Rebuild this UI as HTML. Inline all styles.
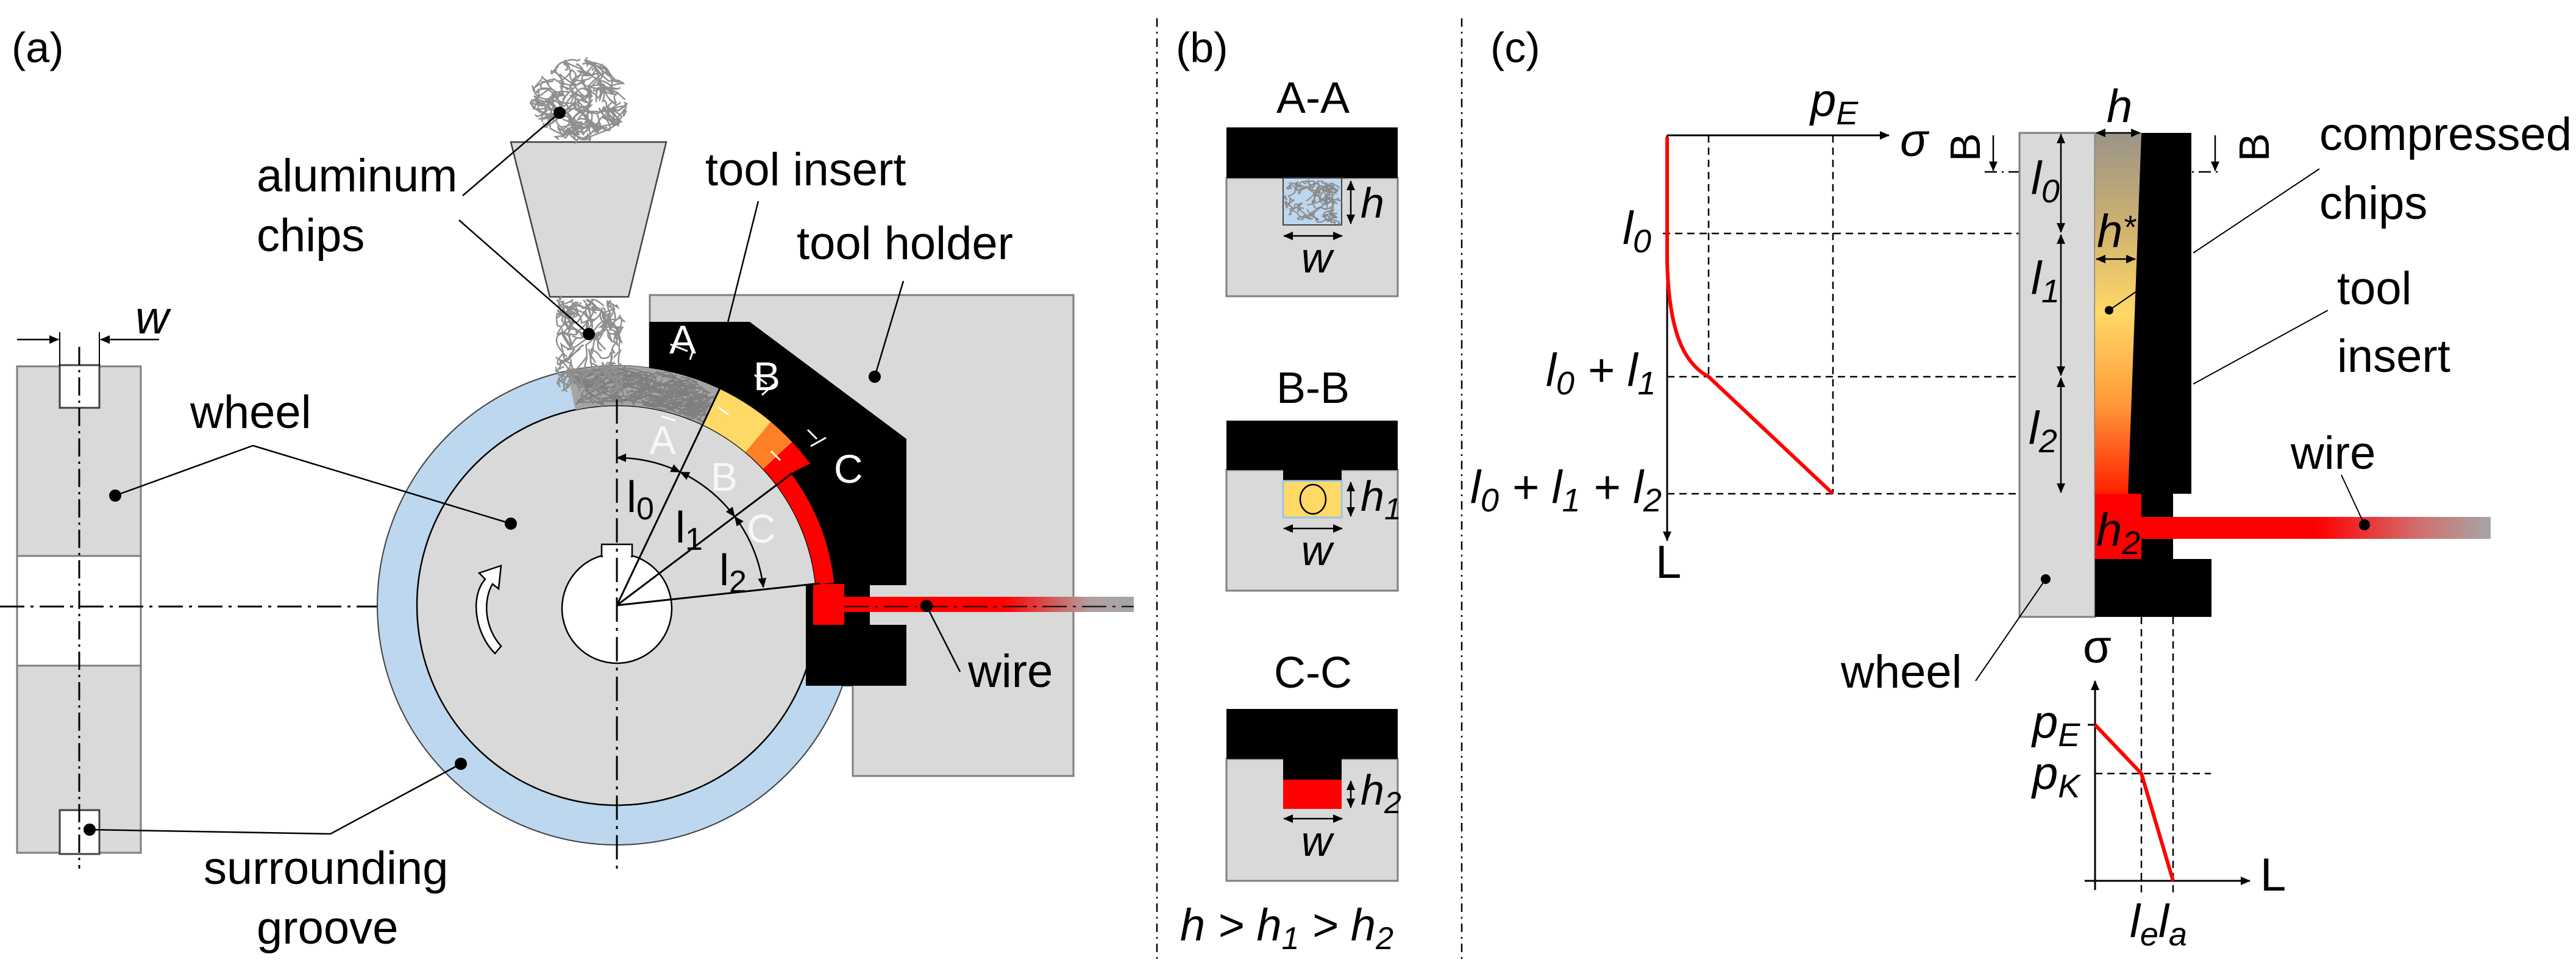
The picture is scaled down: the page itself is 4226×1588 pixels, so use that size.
<!DOCTYPE html>
<html><head><meta charset="utf-8"><style>
html,body{margin:0;padding:0;background:#fff}
svg{display:block}
text{font-family:"Liberation Sans",Arial,sans-serif;font-size:76px;fill:#000}
.it{font-style:italic}
.w{fill:#fff}
</style></head><body>
<svg width="4226" height="1588" viewBox="0 0 4226 1588" xmlns="http://www.w3.org/2000/svg">
<defs>
<marker id="ar" viewBox="0 0 10 10" refX="9" refY="5" markerWidth="7" markerHeight="7" orient="auto-start-reverse" markerUnits="userSpaceOnUse" style="overflow:visible"><path d="M0,0 L10,5 L0,10 z" fill="#000" transform="scale(2.2) translate(-5,-0)"/></marker>
<marker id="a2" markerWidth="24" markerHeight="20" refX="22" refY="10" orient="auto-start-reverse" markerUnits="userSpaceOnUse"><path d="M0,0 L24,10 L0,20 z" fill="#000"/></marker>
<marker id="a3" markerWidth="16" markerHeight="14" refX="15" refY="7" orient="auto-start-reverse" markerUnits="userSpaceOnUse"><path d="M0,0 L16,7 L0,14 z" fill="#000"/></marker>
<linearGradient id="wireA" x1="1385" y1="0" x2="1860" y2="0" gradientUnits="userSpaceOnUse"><stop offset="0" stop-color="#ff0000"/><stop offset="0.55" stop-color="#ff0000"/><stop offset="0.85" stop-color="#b0a0a0"/><stop offset="1" stop-color="#a6a6a6"/></linearGradient>
<linearGradient id="wireC" x1="3513" y1="0" x2="4086" y2="0" gradientUnits="userSpaceOnUse"><stop offset="0" stop-color="#ff0000"/><stop offset="0.5" stop-color="#ff0000"/><stop offset="0.8" stop-color="#d07070"/><stop offset="1" stop-color="#a6a6a6"/></linearGradient>
<linearGradient id="chipC" x1="0" y1="218" x2="0" y2="810" gradientUnits="userSpaceOnUse"><stop offset="0" stop-color="#9a9488"/><stop offset="0.25" stop-color="#cdb070"/><stop offset="0.5" stop-color="#ffd966"/><stop offset="0.75" stop-color="#ff9a3a"/><stop offset="1" stop-color="#ff2000"/></linearGradient>
</defs>

<!-- ===== Panel (a) ===== -->
<text x="19" y="102" style="font-size:70px">(a)</text>

<!-- side view -->
<rect x="28" y="601" width="203" height="798" fill="#d9d9d9" stroke="#7f7f7f" stroke-width="3"/>
<rect x="28" y="912" width="203" height="180" fill="#fff" stroke="#7f7f7f" stroke-width="3"/>
<rect x="98" y="599" width="65" height="70" fill="#fff" stroke="#404040" stroke-width="3"/>
<rect x="98" y="1329" width="65" height="72" fill="#fff" stroke="#404040" stroke-width="3"/>
<line x1="130" y1="569" x2="130" y2="1425" stroke="#000" stroke-width="3" stroke-dasharray="30 8 4 8"/>
<line x1="28" y1="557" x2="96" y2="557" stroke="#000" stroke-width="2.5" marker-end="url(#a3)"/>
<line x1="261" y1="557" x2="165" y2="557" stroke="#000" stroke-width="2.5" marker-end="url(#a3)"/>
<line x1="98" y1="545" x2="98" y2="600" stroke="#000" stroke-width="2"/>
<line x1="163" y1="545" x2="163" y2="600" stroke="#000" stroke-width="2"/>
<text x="222" y="547" class="it">w</text>

<!-- horizontal center line -->
<line x1="0" y1="995" x2="1860" y2="995" stroke="#000" stroke-width="3" stroke-dasharray="40 10 5 10"/>

<!-- tool holder -->
<polygon points="1066,484 1761,484 1761,1273 1399,1273 1399,1125 1066,1125" fill="#d9d9d9" stroke="#7f7f7f" stroke-width="3"/>

<!-- wheel -->
<circle cx="1012" cy="993" r="393" fill="#bdd7ee" stroke="#404040" stroke-width="2"/>
<circle cx="1012" cy="993" r="328" fill="#d9d9d9" stroke="#000" stroke-width="2.5"/>

<!-- chips in groove -->
<path d="M930.3,608.6 A393,393 0 0 1 1180.6,638 L1152.7,696.7 A328,328 0 0 0 943.8,672.2 Z" fill="#a5a5a5"/>
<g id="ringchips"></g>
<path d="M1180.6,638 A393,393 0 0 1 1264.6,692 L1222.8,741.7 A328,328 0 0 0 1152.7,696.7 Z" fill="#ffd966"/>
<path d="M1264.6,692 A393,393 0 0 1 1299.4,725 L1251.9,769.3 A328,328 0 0 0 1222.8,741.7 Z" fill="#ff7f27"/>

<!-- hopper -->
<polygon points="838,233 1093,233 1031,487 902,487" fill="#d9d9d9" stroke="#404040" stroke-width="2.5"/>
<g id="chipsTop"></g>
<g id="chipsBot"></g>

<!-- insert -->
<path d="M1065,528 L1230,528 L1487,720 L1487,960 L1427,960 L1427,1025 L1487,1025 L1487,1125 L1322,1125 L1322,960 L1368,955.6 A358,358 0 0 0 1273.8,748.8 L1299.4,725 A393,393 0 0 0 1065,603.6 Z" fill="#000"/>
<!-- red -->
<path d="M1299.4,725 A393,393 0 0 1 1325.8,756.5 L1273.9,795.6 A328,328 0 0 0 1251.9,769.3 Z" fill="#ff0000"/>
<path d="M1273.9,795.6 A328,328 0 0 1 1338.2,958.7 L1368,955.6 A358,358 0 0 0 1297.9,777.6 Z" fill="#ff0000"/>
<path d="M1273.9,795.6 L1300,775 L1330,760 L1325.8,756.5 Z" fill="#ff0000"/>
<rect x="1334" y="958" width="51" height="67" fill="#ff0000"/>
<rect x="1385" y="979" width="475" height="25" fill="url(#wireA)"/>
<line x1="1385" y1="995" x2="1860" y2="995" stroke="#000" stroke-width="2.5" stroke-dasharray="40 10 5 10" opacity="0.8"/>

<!-- hub -->
<circle cx="1012" cy="998" r="90" fill="#fff" stroke="#000" stroke-width="2.5"/>
<rect x="987" y="893" width="50" height="20" fill="#fff" stroke="#000" stroke-width="2.5"/>
<rect x="989" y="905" width="46" height="14" fill="#fff"/>

<!-- vertical center line -->
<line x1="1012" y1="655" x2="1012" y2="1425" stroke="#000" stroke-width="3" stroke-dasharray="40 10 5 10"/>

<!-- radial lines -->
<line x1="1012" y1="993" x2="1180.6" y2="638" stroke="#000" stroke-width="3"/>
<line x1="1012" y1="993" x2="1300" y2="776" stroke="#000" stroke-width="3"/>
<line x1="1012" y1="993" x2="1345" y2="957" stroke="#000" stroke-width="3"/>

<!-- dimension arcs -->
<path d="M1012,751 A242,242 0 0 1 1115.8,774.4" fill="none" stroke="#000" stroke-width="2.5" marker-start="url(#a3)" marker-end="url(#a3)"/>
<path d="M1115.8,774.4 A242,242 0 0 1 1205.3,847.4" fill="none" stroke="#000" stroke-width="2.5" marker-start="url(#a3)" marker-end="url(#a3)"/>
<path d="M1205.3,847.4 A242,242 0 0 1 1252.2,963.5" fill="none" stroke="#000" stroke-width="2.5" marker-start="url(#a3)" marker-end="url(#a3)"/>
<text x="1028" y="840" style="font-size:72px">l<tspan dy="12" style="font-size:52px">0</tspan></text>
<text x="1108" y="890" style="font-size:72px">l<tspan dy="12" style="font-size:52px">1</tspan></text>
<text x="1180" y="960" style="font-size:72px">l<tspan dy="12" style="font-size:52px">2</tspan></text>

<!-- section labels -->
<text x="1098" y="580" class="w" style="font-size:66px">A</text>
<text x="1236" y="640" class="w" style="font-size:66px">B</text>
<text x="1368" y="792" class="w" style="font-size:66px">C</text>
<g fill="#fff" opacity="0.8">
<text x="1065" y="745" style="font-size:66px;fill:#fff">A</text>
<text x="1166" y="805" style="font-size:66px;fill:#fff">B</text>
<text x="1225" y="890" style="font-size:66px;fill:#fff">C</text>
</g>
<g stroke="#fff" stroke-width="3" fill="none">
<line x1="1100" y1="565" x2="1128" y2="576"/><line x1="1138" y1="572" x2="1132" y2="590"/>
<line x1="1238" y1="615" x2="1258" y2="630"/><line x1="1270" y1="630" x2="1250" y2="648"/>
<line x1="1325" y1="705" x2="1340" y2="720"/><line x1="1355" y1="718" x2="1330" y2="732"/>
<line x1="1085" y1="683" x2="1108" y2="690"/>
<line x1="1178" y1="668" x2="1195" y2="680"/>
<line x1="1265" y1="740" x2="1280" y2="755"/>
</g>

<!-- rotation arrow -->
<path d="M812,1072 C780,1040 770,980 796,950 L786,940 L822,928 L818,966 L808,958 C792,985 795,1030 822,1060 Z" fill="#fff" stroke="#000" stroke-width="2.5"/>

<!-- leaders -->
<g stroke="#000" stroke-width="2.5">
<line x1="759" y1="321" x2="918" y2="185"/>
<line x1="753" y1="361" x2="966" y2="548"/>
<line x1="1244" y1="330" x2="1193" y2="533"/>
<line x1="1482" y1="461" x2="1435" y2="618"/>
<line x1="415" y1="731" x2="189" y2="813"/>
<line x1="415" y1="731" x2="838" y2="859"/>
<line x1="1575" y1="1102" x2="1520" y2="994"/>
<line x1="542" y1="1368" x2="756" y2="1253"/>
<line x1="542" y1="1368" x2="147" y2="1361"/>
</g>
<g fill="#000">
<circle cx="918" cy="185" r="10"/><circle cx="966" cy="548" r="10"/>
<circle cx="1435" cy="618" r="10"/><circle cx="189" cy="813" r="10"/>
<circle cx="838" cy="859" r="10"/><circle cx="1520" cy="994" r="10"/>
<circle cx="756" cy="1253" r="10"/><circle cx="147" cy="1361" r="10"/>
</g>
<text x="421" y="314">aluminum</text>
<text x="421" y="412">chips</text>
<text x="1157" y="304">tool insert</text>
<text x="1307" y="425">tool holder</text>
<text x="312" y="702">wheel</text>
<text x="1588" y="1127">wire</text>
<text x="334" y="1450">surrounding</text>
<text x="421" y="1548">groove</text>

<!-- separators -->
<line x1="1898" y1="30" x2="1898" y2="1580" stroke="#000" stroke-width="2.5" stroke-dasharray="14 8 3 8"/>
<line x1="2398" y1="30" x2="2398" y2="1580" stroke="#000" stroke-width="2.5" stroke-dasharray="14 8 3 8"/>

<!-- ===== Panel (b) ===== -->
<text x="1929" y="102" style="font-size:70px">(b)</text>
<text x="2154" y="185" text-anchor="middle" style="font-size:72px">A-A</text>
<rect x="2012" y="292" width="281" height="194" fill="#d9d9d9" stroke="#7f7f7f" stroke-width="3"/>
<rect x="2012" y="209" width="281" height="83" fill="#000"/>
<rect x="2105" y="292" width="96" height="77" fill="#bdd7ee" stroke="#404040" stroke-width="2"/>
<g id="chipsAA"></g>
<line x1="2216" y1="297" x2="2216" y2="367" stroke="#000" stroke-width="2.5" marker-start="url(#a3)" marker-end="url(#a3)"/>
<text x="2232" y="357" class="it" style="font-size:70px">h</text>
<line x1="2106" y1="387" x2="2202" y2="387" stroke="#000" stroke-width="2.5" marker-start="url(#a3)" marker-end="url(#a3)"/>
<text x="2160" y="447" class="it" text-anchor="middle" style="font-size:70px">w</text>

<text x="2154" y="661" text-anchor="middle" style="font-size:72px">B-B</text>
<rect x="2012" y="771" width="281" height="198" fill="#d9d9d9" stroke="#7f7f7f" stroke-width="3"/>
<rect x="2012" y="690" width="281" height="81" fill="#000"/>
<rect x="2105" y="771" width="96" height="18" fill="#000"/>
<rect x="2105" y="789" width="96" height="60" fill="#ffd966" stroke="#9dc3e6" stroke-width="3"/>
<ellipse cx="2154" cy="819" rx="21" ry="24" fill="none" stroke="#000" stroke-width="2.5"/>
<line x1="2216" y1="791" x2="2216" y2="847" stroke="#000" stroke-width="2.5" marker-start="url(#a3)" marker-end="url(#a3)"/>
<text x="2232" y="838" class="it" style="font-size:70px">h<tspan dy="14" style="font-size:50px">1</tspan></text>
<line x1="2106" y1="867" x2="2202" y2="867" stroke="#000" stroke-width="2.5" marker-start="url(#a3)" marker-end="url(#a3)"/>
<text x="2160" y="927" class="it" text-anchor="middle" style="font-size:70px">w</text>

<text x="2154" y="1128" text-anchor="middle" style="font-size:72px">C-C</text>
<rect x="2012" y="1245" width="281" height="200" fill="#d9d9d9" stroke="#7f7f7f" stroke-width="3"/>
<rect x="2012" y="1163" width="281" height="82" fill="#000"/>
<rect x="2105" y="1245" width="96" height="34" fill="#000"/>
<rect x="2105" y="1279" width="96" height="48" fill="#ff0000"/>
<line x1="2216" y1="1281" x2="2216" y2="1325" stroke="#000" stroke-width="2.5" marker-start="url(#a3)" marker-end="url(#a3)"/>
<text x="2232" y="1320" class="it" style="font-size:70px">h<tspan dy="14" style="font-size:50px">2</tspan></text>
<line x1="2106" y1="1343" x2="2202" y2="1343" stroke="#000" stroke-width="2.5" marker-start="url(#a3)" marker-end="url(#a3)"/>
<text x="2160" y="1404" class="it" text-anchor="middle" style="font-size:70px">w</text>
<text x="1936" y="1543" class="it" style="font-size:74px">h &gt; h<tspan dy="14" style="font-size:52px">1</tspan><tspan dy="-14"> &gt; h</tspan><tspan dy="14" style="font-size:52px">2</tspan></text>

<!-- ===== Panel (c) ===== -->
<text x="2445" y="102" style="font-size:70px">(c)</text>
<!-- upper graph -->
<line x1="2735" y1="222" x2="3099" y2="222" stroke="#000" stroke-width="3" marker-end="url(#a3)"/>
<line x1="2735" y1="222" x2="2735" y2="887" stroke="#000" stroke-width="3" marker-end="url(#a3)"/>
<text x="3117" y="256" class="it">σ</text>
<text x="2970" y="190" class="it">p<tspan dy="14" style="font-size:54px">E</tspan></text>
<g stroke="#000" stroke-width="2.5" stroke-dasharray="12 8" fill="none">
<line x1="2803" y1="222" x2="2803" y2="618"/>
<line x1="3007" y1="222" x2="3007" y2="810"/>
<line x1="2728" y1="383" x2="3437" y2="383"/>
<line x1="2735" y1="618" x2="3437" y2="618"/>
<line x1="2735" y1="810" x2="3437" y2="810"/>
<line x1="3256" y1="282" x2="3641" y2="282" stroke-dasharray="20 8 3 8"/>
</g>
<path d="M2735,225 L2735,430 C2738,540 2760,595 2803,618 L3007,810" fill="none" stroke="#ff0000" stroke-width="6"/>
<text x="2662" y="400" class="it">l<tspan dy="14" style="font-size:54px">0</tspan></text>
<text x="2536" y="633" class="it">l<tspan dy="14" style="font-size:54px">0</tspan><tspan dy="-14"> + l</tspan><tspan dy="14" style="font-size:54px">1</tspan></text>
<text x="2412" y="825" class="it">l<tspan dy="14" style="font-size:54px">0</tspan><tspan dy="-14"> + l</tspan><tspan dy="14" style="font-size:54px">1</tspan><tspan dy="-14"> + l</tspan><tspan dy="14" style="font-size:54px">2</tspan></text>
<text x="2716" y="948">L</text>

<!-- column -->
<rect x="3313" y="218" width="124" height="794" fill="#d9d9d9" stroke="#7f7f7f" stroke-width="3"/>
<polygon points="3437,218 3513,218 3491,810 3437,810" fill="url(#chipC)"/>
<path d="M3513,218 L3595,218 L3595,810 L3565,810 L3565,917 L3628,917 L3628,1012 L3437,1012 L3437,917 L3513,917 L3513,810 L3491,810 Z" fill="#000"/>
<rect x="3437" y="810" width="76" height="107" fill="#ff0000"/>
<rect x="3513" y="848" width="573" height="36" fill="url(#wireC)"/>
<text x="3439" y="895" class="it">h<tspan dy="14" style="font-size:54px">2</tspan></text>
<g stroke="#000" stroke-width="2.5">
<line x1="3381" y1="220" x2="3381" y2="381" marker-start="url(#a3)" marker-end="url(#a3)"/>
<line x1="3381" y1="385" x2="3381" y2="616" marker-start="url(#a3)" marker-end="url(#a3)"/>
<line x1="3381" y1="620" x2="3381" y2="808" marker-start="url(#a3)" marker-end="url(#a3)"/>
<line x1="3439" y1="218" x2="3511" y2="218" marker-start="url(#a3)" marker-end="url(#a3)"/>
<line x1="3439" y1="425" x2="3503" y2="425" marker-start="url(#a3)" marker-end="url(#a3)"/>
<line x1="3270" y1="222" x2="3270" y2="280" marker-end="url(#a3)"/>
<line x1="3634" y1="222" x2="3634" y2="280" marker-end="url(#a3)"/>
</g>
<text x="3332" y="318" class="it">l<tspan dy="14" style="font-size:54px">0</tspan></text>
<text x="3332" y="482" class="it">l<tspan dy="14" style="font-size:54px">1</tspan></text>
<text x="3328" y="728" class="it">l<tspan dy="14" style="font-size:54px">2</tspan></text>
<text x="3456" y="200" class="it">h</text>
<text x="3440" y="405" class="it">h<tspan dy="-14" style="font-size:54px">*</tspan></text>
<text transform="translate(3248,265) rotate(-90)" style="font-size:70px">B</text>
<text transform="translate(3722,265) rotate(-90)" style="font-size:70px">B</text>

<g stroke="#000" stroke-width="2">
<line x1="3805" y1="277" x2="3598" y2="415"/>
<line x1="3505" y1="478" x2="3460" y2="509"/>
<line x1="3819" y1="509" x2="3598" y2="630"/>
<line x1="3841" y1="779" x2="3879" y2="861"/>
<line x1="3241" y1="1117" x2="3356" y2="950"/>
</g>
<circle cx="3460" cy="509" r="7" fill="#000"/>
<circle cx="3879" cy="861" r="9" fill="#000"/>
<circle cx="3356" cy="950" r="8" fill="#000"/>
<text x="3805" y="246">compressed</text>
<text x="3805" y="359">chips</text>
<text x="3834" y="499">tool</text>
<text x="3834" y="610">insert</text>
<text x="3758" y="769">wire</text>
<text x="3020" y="1128">wheel</text>

<!-- lower graph -->
<line x1="3437" y1="1460" x2="3437" y2="1117" stroke="#000" stroke-width="3" marker-end="url(#a3)"/>
<line x1="3420" y1="1445" x2="3691" y2="1445" stroke="#000" stroke-width="3" marker-end="url(#a3)"/>
<text x="3417" y="1087">σ</text>
<text x="3708" y="1461">L</text>
<g stroke="#000" stroke-width="2.5" stroke-dasharray="12 8">
<line x1="3513" y1="1012" x2="3513" y2="1466"/>
<line x1="3565" y1="1012" x2="3565" y2="1466"/>
<line x1="3437" y1="1269" x2="3627" y2="1269"/>
</g>
<line x1="3425" y1="1189" x2="3437" y2="1189" stroke="#000" stroke-width="3"/>
<path d="M3437,1189 L3513,1269 L3565,1445" fill="none" stroke="#ff0000" stroke-width="6"/>
<text x="3334" y="1210" class="it">p<tspan dy="14" style="font-size:54px">E</tspan></text>
<text x="3334" y="1294" class="it">p<tspan dy="14" style="font-size:54px">K</tspan></text>
<text x="3494" y="1537" class="it">l<tspan dy="14" style="font-size:54px">e</tspan><tspan dy="-14">l</tspan><tspan dy="14" style="font-size:54px">a</tspan></text>
</svg>
<script>
(function(){
var s=12345;function r(){s=(s*16807)%2147483647;return s/2147483647;}
var NS="http://www.w3.org/2000/svg";
function squig(gid,inside,bx,by,bw,bh,n,col,sw){
 var g=document.getElementById(gid);
 for(var k=0;k<n;k++){
  var x=bx+r()*bw,y=by+r()*bh,tries=0;
  while(!inside(x,y)&&tries<50){x=bx+r()*bw;y=by+r()*bh;tries++;}
  var d="M"+x.toFixed(1)+","+y.toFixed(1);
  for(var j=0;j<5;j++){
    var nx=x+(r()-0.5)*bw*0.35,ny=y+(r()-0.5)*bh*0.35;
    if(!inside(nx,ny)){nx=x;ny=y;}
    var cx=(x+nx)/2+(r()-0.5)*20,cy=(y+ny)/2+(r()-0.5)*20;
    d+=" Q"+cx.toFixed(1)+","+cy.toFixed(1)+" "+nx.toFixed(1)+","+ny.toFixed(1);
    x=nx;y=ny;
  }
  var p=document.createElementNS(NS,"path");
  p.setAttribute("d",d);p.setAttribute("fill","none");
  p.setAttribute("stroke",col);p.setAttribute("stroke-width",sw);
  g.appendChild(p);
 }
}
squig("chipsTop",function(x,y){var a=(x-950)/80,b=(y-165)/68;return a*a+b*b<1&&y<231;},865,95,170,140,70,"#8f8f8f",2.5);
squig("chipsBot",function(x,y){return x>912&&x<1022&&y>490&&y<640;},905,488,125,155,60,"#8f8f8f",2.5);
squig("ringchips",function(x,y){var dx=x-1012,dy=y-993,rr=Math.sqrt(dx*dx+dy*dy);var t=Math.atan2(dx,-dy)*180/Math.PI;return rr>330&&rr<391&&t>-11&&t<25;},925,600,265,110,90,"#7f7f7f",2);
squig("chipsAA",function(x,y){return x>2108&&x<2198&&y>295&&y<366;},2106,293,94,75,35,"#8a8a8a",2);
})();
</script>
</body></html>
